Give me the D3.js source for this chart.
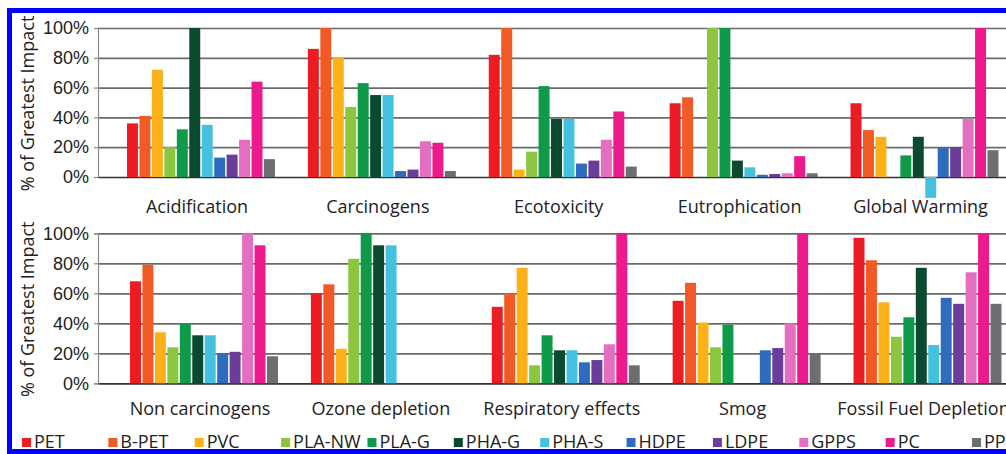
<!DOCTYPE html>
<html>
<head>
<meta charset="utf-8">
<script src="https://cdn.jsdelivr.net/npm/d3@7"></script>
<style>
  body { margin: 0; background: #fff; }
  svg { display: block; font-family: "Open Sans", sans-serif; }
  .grid line { stroke: #6a6a6a; stroke-width: 1.7; }
  .grid .domain { display: none; }
  .yaxis .domain, .yaxis line { stroke: #8a8a8a; stroke-width: 1.2; }
  .yaxis text { font-size: 18px; fill: #222; }
  .cat { font-size: 18px; fill: #222; }
</style>
</head>
<body>
<svg id="chart"></svg>
<script>
// series (plastics) and their colours
const series = ['PET', 'B-PET', 'PVC', 'PLA-NW', 'PLA-G', 'PHA-G', 'PHA-S', 'HDPE', 'LDPE', 'GPPS', 'PC', 'PP'];
const colors = ['#ec1c24', '#f15a24', '#fbb117', '#8cc63f', '#0e9a48', '#0b4a2e',
                '#45c1e0', '#2f6cbf', '#6a3d9a', '#e46fc0', '#ec1a8c', '#6d6e72'];

const yTicks = [0, 20, 40, 60, 80, 100];

// top row
const topCategories = ['Acidification', 'Carcinogens', 'Ecotoxicity', 'Eutrophication', 'Global Warming'];
const acidification  = [36, 41, 72, 20, 32, 100, 35, 13, 15, 25, 64, 12];
const carcinogens    = [86, 100, 80, 47, 63, 55, 55, 4, 5, 24, 23, 4];
const ecotoxicity    = [82, 100, 5, 17, 61, 39, 39, 9, 11, 25, 44, 7];
const eutrophication = [49.5, 53.5, 0, 100, 100, 11, 6.5, 1.5, 2, 2.5, 14, 2.5];
const globalWarming  = [49.5, 31.5, 27, 0, 14.5, 27, -14, 20, 20, 39, 100, 18];

// bottom row
const bottomCategories = ['Non carcinogens', 'Ozone depletion', 'Respiratory effects', 'Smog', 'Fossil Fuel Depletion'];
const nonCarcinogens  = [68, 79, 34, 24, 40, 32, 32, 20, 21, 100, 92, 18];
const ozoneDepletion  = [60, 66, 23, 83, 100, 92, 92, 0, 0, 0, 0, 0];
const respiratory     = [51, 60, 77, 12, 32, 22, 22, 14, 15.5, 26, 100, 12];
const smog            = [55, 67, 40.5, 24, 39, 0, 0, 22, 23.5, 40, 100, 20];
const fossilFuel      = [97, 82, 54, 31, 44, 77, 25.5, 57, 53, 74, 100, 53];

const width = 1006, height = 454;
const axisX = 98;

const svg = d3.select('#chart')
    .attr('width', width)
    .attr('height', height);

svg.append('rect')
    .attr('width', width)
    .attr('height', height)
    .attr('fill', '#fff');

const color = d3.scaleOrdinal().domain(series).range(colors);

function drawPanel(categories, values, y0, y100, labelY, xStart) {
    const g = svg.append('g');

    const x = d3.scaleBand()
        .domain(categories)
        .range([xStart, xStart + 871.5])
        .paddingInner(0.182);
    const xInner = d3.scaleBand()
        .domain(series)
        .range([0, x.bandwidth()])
        .paddingInner(0.12);
    const y = d3.scaleLinear()
        .domain([0, 100])
        .range([y0, y100]);

    // gridlines
    g.append('g')
        .attr('class', 'grid')
        .attr('transform', 'translate(' + axisX + ',0)')
        .call(d3.axisLeft(y).tickValues(yTicks).tickSize(-(width - axisX)).tickFormat(''))
        .selectAll('line')
        .style('stroke', d => d === 0 ? '#333' : null);

    // bars
    const groups = g.selectAll('.group')
        .data(categories)
        .enter()
        .append('g')
        .attr('transform', d => 'translate(' + x(d) + ',0)');

    groups.selectAll('rect')
        .data((d, i) => values[i].map((v, j) => ({ key: series[j], value: v })))
        .enter()
        .append('rect')
        .attr('x', d => xInner(d.key))
        .attr('width', xInner.bandwidth())
        .attr('y', d => y(Math.max(0, d.value)))
        .attr('height', d => Math.abs(y(d.value) - y(0)))
        .attr('fill', d => color(d.key));

    // y axis with labels
    g.append('g')
        .attr('class', 'yaxis')
        .attr('transform', 'translate(' + axisX + ',0)')
        .call(d3.axisLeft(y).tickValues(yTicks).tickSize(4).tickPadding(5).tickFormat(d => d + '%'));

    // category labels
    g.selectAll('.cat')
        .data(categories)
        .enter()
        .append('text')
        .attr('class', 'cat')
        .attr('x', d => x(d) + x.bandwidth() / 2 - 4)
        .attr('y', labelY)
        .attr('text-anchor', 'middle')
        .text(d => d);

    // y title
    g.append('text')
        .attr('class', 'cat')
        .attr('transform', 'translate(27,' + ((y0 + y100) / 2 + 1) + ') rotate(-90)')
        .attr('text-anchor', 'middle')
        .attr('dominant-baseline', 'central')
        .text('% of Greatest Impact');
}

drawPanel(topCategories,
    [acidification, carcinogens, ecotoxicity, eutrophication, globalWarming], 177, 28, 213, 127);
drawPanel(bottomCategories,
    [nonCarcinogens, ozoneDepletion, respiratory, smog, fossilFuel], 383.3, 233.3, 415, 130);

// legend
const legendX = d3.scalePoint().domain(series).range([22, 972]);
const legend = svg.append('g')
    .selectAll('g')
    .data(series)
    .enter()
    .append('g')
    .attr('transform', d => 'translate(' + legendX(d) + ',0)');
legend.append('rect')
    .attr('y', 438)
    .attr('width', 9)
    .attr('height', 9)
    .attr('fill', d => color(d));
legend.append('text')
    .attr('class', 'cat')
    .attr('x', 12)
    .attr('y', 448)
    .text(d => d);

// blue frame
svg.append('rect')
    .attr('x', 9.5)
    .attr('y', 10.5)
    .attr('width', 1010)
    .attr('height', 441)
    .attr('fill', 'none')
    .attr('stroke', '#0000ff')
    .attr('stroke-width', 5);
</script>
</body>
</html>
